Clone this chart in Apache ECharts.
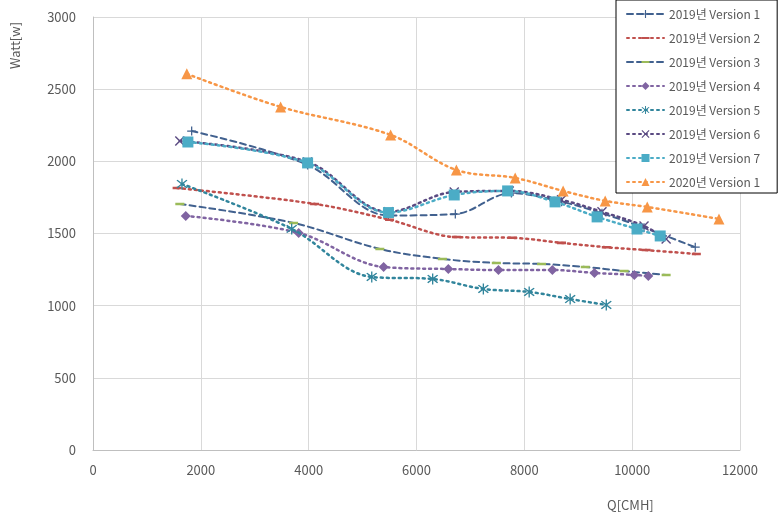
<!DOCTYPE html>
<html>
<head>
<meta charset="utf-8">
<script src="https://cdn.jsdelivr.net/npm/echarts@6/dist/echarts.min.js"></script>
<style>
html,body{margin:0;padding:0;background:#fff;}
#c{width:780px;height:526px;}
</style>
</head>
<body>
<div id="c"></div>
<script>
// ---- data ----
const seriesNames = ['2019년 Version 1','2019년 Version 2','2019년 Version 3','2019년 Version 4','2019년 Version 5','2019년 Version 6','2019년 Version 7','2020년 Version 1'];
const s1x = [1830, 3980, 5480, 6720, 7760, 8690, 9440, 10220, 11170];
const s1y = [2210, 1975, 1625, 1635, 1780, 1720, 1640, 1540, 1405];
const s2x = [1560, 4110, 5500, 6740, 7780, 8690, 9520, 10260, 11190];
const s2y = [1815, 1705, 1595, 1475, 1470, 1435, 1405, 1385, 1358];
const s3x = [1610, 3720, 5320, 6480, 7480, 8320, 9130, 9850, 10630];
const s3y = [1705, 1573, 1393, 1324, 1296, 1289, 1268, 1240, 1213];
const s4x = [1720, 3815, 5390, 6590, 7520, 8520, 9300, 10040, 10300];
const s4y = [1622, 1504, 1268, 1254, 1247, 1247, 1227, 1213, 1206];
const s5x = [1650, 3685, 5170, 6300, 7240, 8090, 8850, 9520];
const s5y = [1843, 1532, 1199, 1185, 1116, 1095, 1046, 1005];
const s6x = [1610, 3980, 5480, 6700, 7720, 8690, 9440, 10220, 10630];
const s6y = [2141, 1996, 1650, 1788, 1795, 1733, 1650, 1552, 1462];
const s7x = [1760, 3980, 5480, 6700, 7690, 8570, 9350, 10090, 10520];
const s7y = [2134, 1989, 1645, 1767, 1795, 1719, 1615, 1531, 1483];
const s8x = [1740, 3480, 5520, 6740, 7830, 8720, 9500, 10280, 11610];
const s8y = [2606, 2377, 2183, 1940, 1885, 1795, 1726, 1684, 1601];
const xTicks = {min: 0, max: 12000, interval: 2000};
const yTicks = {min: 0, max: 3000, interval: 500};

// ---- build ----
const pairs = (xs, ys) => xs.map((x, i) => [x, ys[i]]);
const PLUS = 'path://M4.3,0H5.7V4.3H10V5.7H5.7V10H4.3V5.7H0V4.3H4.3Z';
const XMARK = 'path://M1,0L5,4L9,0L10,1L6,5L10,9L9,10L5,6L1,10L0,9L4,5L0,1Z';
const STAR = 'path://M1,0L5,4L9,0L10,1L6,5L10,9L9,10L5,6L1,10L0,9L4,5L0,1Z M4.4,-1.5H5.6V11.5H4.4Z';
const DASHM = 'path://M0,3.6H10V6.4H0Z M0,0L0.001,0L0,0.001Z M0,10L0.001,10L0,9.999Z';
const font = '"Noto Sans CJK KR","Noto Sans",sans-serif';

const defs = [
  {x:s1x,y:s1y,color:'#41618F',mcolor:'#41618F',type:[6,4],width:2,symbol:PLUS,size:9},
  {x:s2x,y:s2y,color:'#C0504D',mcolor:'#C0504D',type:[2,4],width:2.5,symbol:DASHM,size:9},
  {x:s3x,y:s3y,color:'#41618F',mcolor:'#9BBB59',type:[6,4],width:2,symbol:DASHM,size:9},
  {x:s4x,y:s4y,color:'#8064A2',mcolor:'#8064A2',type:[2,4],width:2.5,symbol:'diamond',size:10},
  {x:s5x,y:s5y,color:'#31859C',mcolor:'#31859C',type:[2,4],width:2.5,symbol:STAR,size:11},
  {x:s6x,y:s6y,color:'#5A4A82',mcolor:'#5A4A82',type:[2,4],width:2.5,symbol:XMARK,size:10},
  {x:s7x,y:s7y,color:'#4BACC6',mcolor:'#4BACC6',type:[2,4],width:2.5,symbol:'rect',size:11},
  {x:s8x,y:s8y,color:'#F79646',mcolor:'#F79646',type:[2,4],width:2.5,symbol:'triangle',size:11}
];

const series = defs.map((d, i) => ({
  name: seriesNames[i],
  type: 'line',
  smooth: 0.35,
  data: pairs(d.x, d.y),
  symbol: d.symbol,
  symbolSize: d.size,
  showAllSymbol: true,
  lineStyle: {color: d.color, width: d.width, type: d.type, cap: 'round'},
  itemStyle: {color: d.mcolor, borderWidth: 0},
  emphasis: {disabled: true},
  animation: false,
  z: 2 + i
}));

const chart = echarts.init(document.getElementById('c'), null, {renderer: 'canvas'});
chart.setOption({
  animation: false,
  backgroundColor: '#fff',
  textStyle: {fontFamily: font},
  grid: {left: 93, right: 40, top: 17, bottom: 76, containLabel: false},
  xAxis: {
    type: 'value', min: xTicks.min, max: xTicks.max, interval: xTicks.interval,
    axisLine: {show: true, lineStyle: {color: '#BFBFBF'}},
    axisTick: {show: false},
    axisLabel: {color: '#595959', fontSize: 13, margin: 14, fontFamily: font, formatter: v => String(v)},
    splitLine: {show: true, lineStyle: {color: '#D9D9D9'}}
  },
  yAxis: {
    type: 'value', min: yTicks.min, max: yTicks.max, interval: yTicks.interval,
    axisLine: {show: true, lineStyle: {color: '#BFBFBF'}},
    axisTick: {show: false},
    axisLabel: {color: '#595959', fontSize: 13, margin: 17, fontFamily: font, formatter: v => String(v)},
    splitLine: {show: true, lineStyle: {color: '#D9D9D9'}}
  },
  legend: {
    orient: 'vertical',
    left: 616, top: 0,
    padding: [8, 17, 5, 10],
    backgroundColor: '#fff',
    borderColor: '#000', borderWidth: 1,
    itemWidth: 37, itemHeight: 10, itemGap: 12,
    textStyle: {color: '#595959', fontSize: 12, fontFamily: font},
    data: seriesNames
  },
  graphic: [
    {type: 'text', left: 607, top: 499, style: {text: 'Q[CMH]', fill: '#595959', font: '13px ' + font}},
    {type: 'text', x: 9, y: 69, rotation: Math.PI / 2, style: {text: 'Watt[w]', fill: '#595959', font: '13px ' + font}}
  ],
  series: series
});
</script>
</body>
</html>
